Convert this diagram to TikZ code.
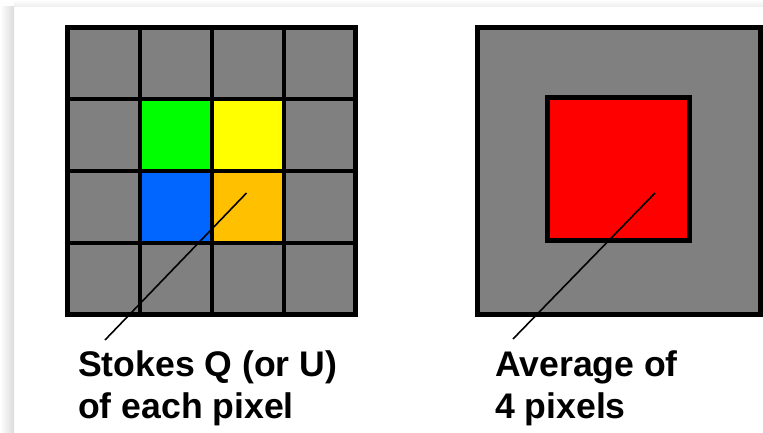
\documentclass[tikz,border=0pt]{standalone}
\usepackage{fontspec}
\setmainfont{Liberation Sans}
\definecolor{pixgray}{HTML}{808080}
\definecolor{pixgreen}{HTML}{00FF00}
\definecolor{pixyellow}{HTML}{FFFF00}
\definecolor{pixblue}{HTML}{0066FF}
\definecolor{pixorange}{HTML}{FFC000}
\definecolor{pixred}{HTML}{FF0000}
\begin{document}
\begin{tikzpicture}[x=1pt,y=-1pt,
  cell/.style={draw=black, line width=4pt, minimum width=72pt, minimum height=71.75pt, inner sep=0pt, fill=pixgray},
  lbl/.style={anchor=base west, inner sep=0pt, font=\fontsize{35.6}{42}\selectfont\bfseries},
  leader/.style={draw=black, line width=1.6pt}]
\useasboundingbox (0,0) rectangle (763,433);
% slide background with soft shadow
\fill[white] (0,0) rectangle (763,433);
\shade[left color=white, right color=black!14] (0,7) rectangle (14,433);
\shade[top color=white, bottom color=black!7] (14,0) rectangle (763,7);
% left grid of pixels
\foreach \i in {0,1,2,3}{
  \foreach \j in {0,1,2,3}{
    \node[cell] (c\i\j) at ({67.5+72*(\i+0.5)},{27.5+71.75*(\j+0.5)}) {};
  }
}
\node[cell, fill=pixgreen] (g) at (c11) {};
\node[cell, fill=pixyellow] (y) at (c21) {};
\node[cell, fill=pixblue] (b) at (c12) {};
\node[cell, fill=pixorange] (o) at (c22) {};
\draw[line width=5pt] (67.5,27.5) rectangle (355,314.5);
% right averaged pixel
\node[draw=black, line width=5pt, fill=pixgray, minimum width=283pt, minimum height=286pt, inner sep=0pt] (big) at (618.5,171) {};
\node[draw=black, line width=5pt, fill=pixred, minimum width=142pt, minimum height=142pt, inner sep=0pt] (avg) at (618,169) {};
% labels
\node[lbl] (t1) at (78,376) {Stokes Q (or U)};
\node[lbl] (t2) at (78,418) {of each pixel};
\node[lbl] (t3) at (495,376) {Average of};
\node[lbl] (t4) at (495,418) {4 pixels};
% leader lines
\coordinate (p1) at (246.5,193);
\coordinate (q1) at (105,340);
\coordinate (p2) at (655,193);
\coordinate (q2) at (513,339);
\draw[leader] (p1) -- (q1);
\draw[leader] (p2) -- (q2);
\end{tikzpicture}
\end{document}
